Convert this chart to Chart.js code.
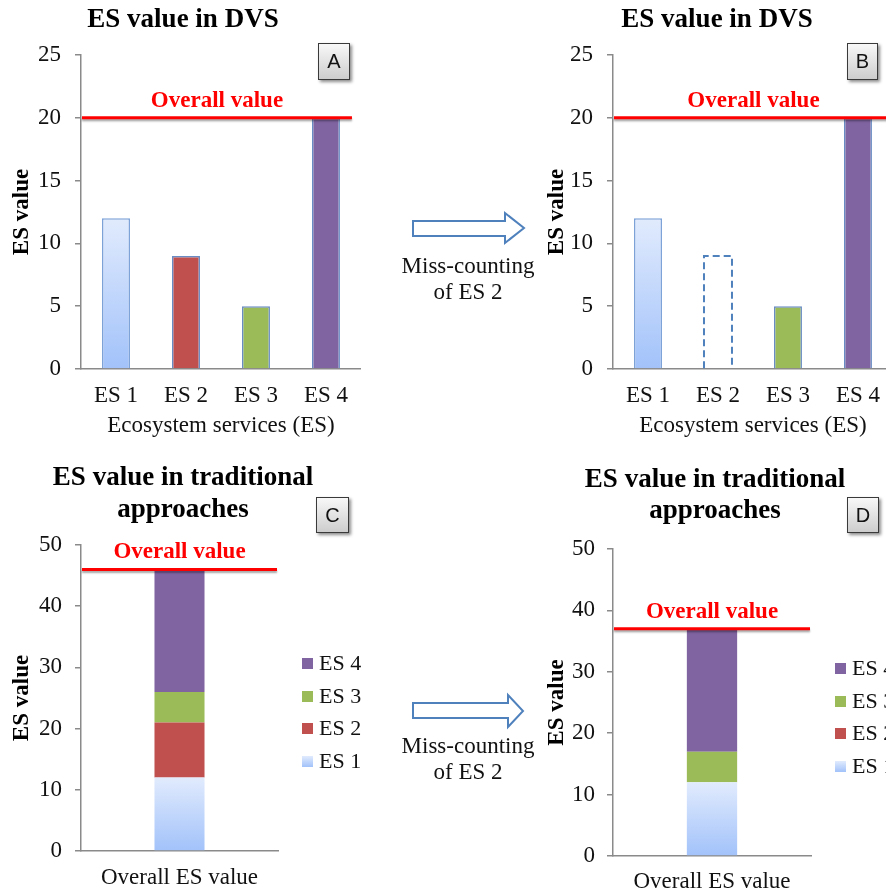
<!DOCTYPE html>
<html>
<head>
<meta charset="utf-8">
<script src="https://cdn.jsdelivr.net/npm/chart.js@4.4.0/dist/chart.umd.min.js"></script>
<style>
  html, body { margin: 0; padding: 0; overflow: hidden; background: #fff; }
  body { position: relative; width: 886px; height: 894px; font-family: 'Liberation Serif', 'Times New Roman', serif; }
  canvas { position: absolute; }
  .letra {
    position: absolute; box-sizing: border-box; border: 1px solid #3a3a3a;
    background: linear-gradient(#f8f8f8, #cdcdcd); box-shadow: 2px 2px 3px rgba(0,0,0,0.45);
    font: 20px 'Liberation Sans', Arial, sans-serif; color: #111; text-align: center; z-index: 2;
  }
  .nota { position: absolute; width: 200px; text-align: center; font-size: 23px; line-height: 26px; color: #111; }
  .leyenda { position: absolute; font-size: 22px; color: #111; z-index: 2; }
  .leyenda div { position: absolute; white-space: nowrap; height: 26px; line-height: 26px; }
  .leyenda span { display: inline-block; width: 11px; height: 11px; margin-right: 6px; vertical-align: 1px; }
  svg { position: absolute; left: 0; top: 0; }
</style>
</head>
<body>
<canvas id="chartA" width="361" height="447" style="left:0;top:0"></canvas>
<canvas id="chartB" width="363" height="447" style="left:530px;top:0"></canvas>
<canvas id="chartC" width="366" height="444" style="left:0;top:450px"></canvas>
<canvas id="chartD" width="350" height="444" style="left:540px;top:450px"></canvas>

<svg width="886" height="894">
  <polygon points="413,221 505,221 505,213 524,228 505,243 505,236 413,236" fill="#fff" stroke="#4f81bd" stroke-width="2"/>
  <polygon points="413,703 508,703 508,695 523,711 508,727 508,718 413,718" fill="#fff" stroke="#4f81bd" stroke-width="2"/>
</svg>
<div class="nota" style="left:368px;top:253px">Miss-counting<br>of ES 2</div>
<div class="nota" style="left:368px;top:733px">Miss-counting<br>of ES 2</div>

<div class="letra" style="left:318px;top:43px;width:32px;height:37px;line-height:35px">A</div>
<div class="letra" style="left:847px;top:43px;width:31px;height:37px;line-height:35px">B</div>
<div class="letra" style="left:316px;top:497px;width:33px;height:36px;line-height:34px">C</div>
<div class="letra" style="left:847px;top:497px;width:32px;height:36px;line-height:34px">D</div>

<div class="leyenda" id="leyendaC" style="left:302px;top:650px"></div>
<div class="leyenda" id="leyendaD" style="left:835px;top:655px"></div>

<script>
// Datos
const categorias = ['ES 1', 'ES 2', 'ES 3', 'ES 4'];
const valoresDVS = [12, 9, 5, 20];          // panel A
const valoresDVSMiss = [12, 9, 5, 20];      // panel B (ES 2 solo con borde discontinuo)
const indiceMiss = 1;                       // ES 2
const valoresTrad = [12, 9, 5, 20];         // panel C (apilado)
const valoresTradMiss = [12, 0, 5, 20];     // panel D (ES 2 no contado)
const overallValores = [20, 20, 46, 37];    // linea roja de A, B, C, D
const etiquetaTotal = ['Overall ES value'];
const ticksDVS = [0, 5, 10, 15, 20, 25];
const ticksTrad = [0, 10, 20, 30, 40, 50];
const coloresES = ['#b4cffb', '#c0504d', '#9bbb59', '#8064a2'];

const fuente = "'Liberation Serif', 'Times New Roman', serif";
const colorEje = '#8a8a8a';
const colorTexto = '#111';

// Degradado azul claro de ES 1
const rellenoES1 = (ctx) => {
    const chart = ctx.chart;
    if (!chart.chartArea || ctx.raw == null) return coloresES[0];
    const y = chart.scales.y;
    const g = chart.ctx.createLinearGradient(0, y.getPixelForValue(ctx.raw), 0, y.getPixelForValue(0));
    g.addColorStop(0, '#e1ebfd');
    g.addColorStop(1, '#a2c2fa');
    return g;
};

// Linea roja "Overall value"
const lineaOverall = {
    id: 'lineaOverall',
    afterDatasetsDraw(chart, args, opts) {
        const {ctx, chartArea} = chart;
        const y = chart.scales.y.getPixelForValue(opts.value);
        const x0 = chartArea.left + 1;
        const x1 = chartArea.right - (opts.recorte || 0);
        ctx.save();
        ctx.shadowColor = 'rgba(0,0,0,0.35)';
        ctx.shadowOffsetY = 2;
        ctx.shadowBlur = 2;
        ctx.strokeStyle = '#ff0000';
        ctx.lineWidth = 3;
        ctx.beginPath();
        ctx.moveTo(x0, y);
        ctx.lineTo(x1, y);
        ctx.stroke();
        ctx.shadowColor = 'transparent';
        ctx.fillStyle = '#ff0000';
        ctx.font = 'bold 23px ' + fuente;
        ctx.textAlign = 'center';
        ctx.textBaseline = 'middle';
        ctx.fillText('Overall value', (x0 + x1) / 2, y - 17);
        ctx.restore();
    }
};

// Barra de ES 2 con borde discontinuo (panel B)
const barraPerdida = {
    id: 'barraPerdida',
    afterDatasetsDraw(chart, args, opts) {
        if (opts.indice == null) return;
        const bar = chart.getDatasetMeta(0).data[opts.indice];
        const {x, y, base, width} = bar.getProps(['x', 'y', 'base', 'width'], true);
        const ctx = chart.ctx;
        ctx.save();
        ctx.strokeStyle = '#4f81bd';
        ctx.lineWidth = 2;
        ctx.setLineDash([7, 4]);
        ctx.beginPath();
        ctx.moveTo(x - width / 2, base);
        ctx.lineTo(x - width / 2, y);
        ctx.lineTo(x + width / 2, y);
        ctx.lineTo(x + width / 2, base);
        ctx.stroke();
        ctx.restore();
    }
};

const escalaX = (alto, padTicks, titulo, padTitulo, apilado) => ({
    stacked: apilado,
    grid: {display: false, drawTicks: false},
    border: {display: true, color: colorEje, width: 1.5},
    ticks: {font: {family: fuente, size: 23}, color: colorTexto, padding: padTicks},
    title: titulo
        ? {display: true, text: titulo, font: {family: fuente, size: 23}, color: colorTexto, padding: {top: 0, bottom: padTitulo}}
        : {display: false},
    afterFit: (s) => { s.height = alto; }
});

const escalaY = (ancho, ticks, padTicks, padTitulo, apilado) => ({
    stacked: apilado,
    min: ticks[0],
    max: ticks[ticks.length - 1],
    ticks: {stepSize: ticks[1] - ticks[0], font: {family: fuente, size: 23}, color: colorTexto, padding: padTicks},
    grid: {drawOnChartArea: false, drawTicks: true, tickLength: 6, color: colorEje, lineWidth: 1.5},
    border: {color: colorEje, width: 1.5},
    title: {display: true, text: 'ES value', font: {family: fuente, size: 23, weight: 'bold'}, color: '#000', padding: {top: padTitulo, bottom: 0}},
    afterFit: (s) => { s.width = ancho; }
});

// Espacio vacio a la derecha (donde va la leyenda)
const espacio = (ancho) => ({
    type: 'linear', position: 'right', display: true,
    ticks: {display: false}, grid: {display: false}, border: {display: false},
    afterFit: (s) => { s.width = ancho; }
});

const tituloGrafico = (texto, lh, padTop, padBottom) => ({
    display: true, text: texto, color: '#000',
    font: {family: fuente, size: 27, weight: 'bold', lineHeight: lh},
    padding: {top: padTop, bottom: padBottom}
});

// Paneles A y B: barras simples
const crearBarras = (id, valores, overall, recorte, padIzq, anchoY, padTituloY, indiceDiscontinuo) => {
    const fondo = (ctx) => {
        if (ctx.dataIndex === indiceDiscontinuo) return 'rgba(0,0,0,0)';
        return ctx.dataIndex === 0 ? rellenoES1(ctx) : coloresES[ctx.dataIndex];
    };
    const borde = categorias.map((c, i) => i === indiceDiscontinuo ? 'rgba(0,0,0,0)' : (i === 0 ? '#7da2d8' : '#6a8cc4'));
    return new Chart(document.getElementById(id), {
        type: 'bar',
        data: {
            labels: categorias,
            datasets: [{
                label: 'ES value', data: valores, yAxisID: 'y',
                backgroundColor: fondo, borderColor: borde, borderWidth: 1.5,
                categoryPercentage: 1, barPercentage: 0.4
            }]
        },
        options: {
            responsive: false, animation: false, events: [],
            layout: {padding: {left: padIzq, right: 0, top: 0, bottom: 0}},
            scales: {
                x: escalaX(78, 13, 'Ecosystem services (ES)', 7, false),
                y: escalaY(anchoY, ticksDVS, 14, padTituloY, false)
            },
            plugins: {
                legend: {display: false}, tooltip: {enabled: false},
                title: tituloGrafico('ES value in DVS', 1.2, 3.8, 18.8),
                lineaOverall: {value: overall, recorte: recorte},
                barraPerdida: {indice: indiceDiscontinuo}
            }
        },
        plugins: [lineaOverall, barraPerdida]
    });
};

// Paneles C y D: barra apilada
const crearApilado = (id, valores, overall, anchoY, padTicksY, padTituloY, padTicksX, altoX, anchoEspacio, padTitTop, padTitBottom) => {
    const datasets = categorias.map((c, i) => ({
        label: c, data: [valores[i]], yAxisID: 'y',
        backgroundColor: i === 0 ? rellenoES1 : coloresES[i],
        borderWidth: 0, categoryPercentage: 1, barPercentage: 0.254
    }));
    return new Chart(document.getElementById(id), {
        type: 'bar',
        data: {labels: etiquetaTotal, datasets: datasets},
        options: {
            responsive: false, animation: false, events: [],
            layout: {padding: 0},
            scales: {
                x: escalaX(altoX, padTicksX, null, 0, true),
                y: escalaY(anchoY, ticksTrad, padTicksY, padTituloY, true),
                derecha: espacio(anchoEspacio)
            },
            plugins: {
                legend: {display: false}, tooltip: {enabled: false},
                title: tituloGrafico(['ES value in traditional', 'approaches'], 1.167, padTitTop, padTitBottom),
                lineaOverall: {value: overall, recorte: 1}
            }
        },
        plugins: [lineaOverall]
    });
};

crearBarras('chartA', valoresDVS, overallValores[0], 9, 5, 76, 3.2, null);
crearBarras('chartB', valoresDVSMiss, overallValores[1], 0, 11, 72, 2.2, indiceMiss);
crearApilado('chartC', valoresTrad, overallValores[2], 81, 13, 8.2, 13, 43, 88, 12.75, 19.25);
crearApilado('chartD', valoresTradMiss, overallValores[3], 73, 12, 3.2, 12, 38, 79, 14.25, 21.75);

// Leyendas (ES 4 arriba)
const crearLeyenda = (id, paso) => {
    const cont = document.getElementById(id);
    categorias.slice().reverse().forEach((c, k) => {
        const i = categorias.length - 1 - k;
        const fila = document.createElement('div');
        fila.style.top = (k * paso) + 'px';
        const caja = document.createElement('span');
        caja.style.background = i === 0 ? 'linear-gradient(#e1ebfd, #a2c2fa)' : coloresES[i];
        fila.appendChild(caja);
        fila.appendChild(document.createTextNode(c));
        cont.appendChild(fila);
    });
};
crearLeyenda('leyendaC', 32.5);
crearLeyenda('leyendaD', 32.5);
</script>
</body>
</html>
